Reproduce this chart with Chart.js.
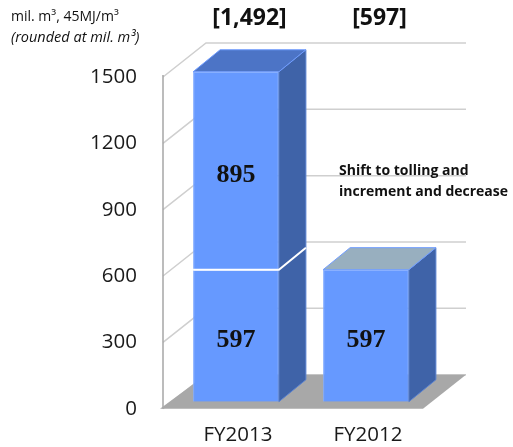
<!DOCTYPE html>
<html>
<head>
<meta charset="utf-8">
<script src="https://cdn.jsdelivr.net/npm/chart.js@4"></script>
<style>
  html, body { margin: 0; padding: 0; background: #fff; }
  #wrap { position: relative; width: 513px; height: 447px; }
</style>
</head>
<body>
<div id="wrap"><canvas id="volumeChart"></canvas></div>
<script>
const categories = ['FY2013', 'FY2012'];
const existingVolume = [597, 597];
const tollingVolume = [895, null];
const yTickValues = [0, 300, 600, 900, 1200, 1500];

const totals = categories.map((_, i) => existingVolume[i] + (tollingVolume[i] || 0));

// 3D geometry (pixels)
const WALL_DX = 43, WALL_DY = -34;
const BAR_SHIFT_X = 8, BAR_SHIFT_Y = -7;
const BAR_DX = 27, BAR_DY = -22;

const SANS = '"Open Sans", "Liberation Sans", sans-serif';

function fillPoly(ctx, pts, fill, stroke) {
  ctx.beginPath();
  ctx.moveTo(pts[0][0], pts[0][1]);
  for (let k = 1; k < pts.length; k++) ctx.lineTo(pts[k][0], pts[k][1]);
  ctx.closePath();
  ctx.fillStyle = fill;
  ctx.fill();
  if (stroke) {
    ctx.strokeStyle = stroke;
    ctx.lineWidth = 1;
    ctx.stroke();
  }
}

function isTopSegment(chart, di, i) {
  const sets = chart.data.datasets;
  for (let k = di + 1; k < sets.length; k++) {
    if (sets[k].data[i] != null) return false;
  }
  return true;
}

const box3d = {
  id: 'box3d',
  beforeDatasetsDraw(chart) {
    const { ctx, chartArea: a, scales: { y } } = chart;
    ctx.save();
    // side wall + back wall gridlines
    ctx.strokeStyle = '#cfcfcf';
    ctx.lineWidth = 1.5;
    y.ticks.forEach(t => {
      const py = y.getPixelForValue(t.value);
      ctx.beginPath();
      ctx.moveTo(a.left, py);
      ctx.lineTo(a.left + WALL_DX, py + WALL_DY);
      ctx.lineTo(a.right + WALL_DX, py + WALL_DY);
      ctx.stroke();
    });
    // front edge of the side wall
    ctx.strokeStyle = '#a6a6a6';
    ctx.beginPath();
    ctx.moveTo(a.left, y.getPixelForValue(y.max) - 2);
    ctx.lineTo(a.left, a.bottom);
    ctx.stroke();
    // floor
    fillPoly(ctx, [
      [a.left - 3, a.bottom],
      [a.right, a.bottom],
      [a.right + WALL_DX, a.bottom + WALL_DY],
      [a.left + WALL_DX, a.bottom + WALL_DY]
    ], '#a8a8a8');
    ctx.restore();

    // bars sit a little behind the front plane
    ctx.save();
    ctx.translate(BAR_SHIFT_X, BAR_SHIFT_Y);
  },
  afterDatasetsDraw(chart) {
    const ctx = chart.ctx;
    const seams = [];
    chart.data.datasets.forEach((ds, di) => {
      chart.getDatasetMeta(di).data.forEach((bar, i) => {
        if (ds.data[i] == null) return;
        const { x, y, base, width } = bar.getProps(['x', 'y', 'base', 'width'], true);
        const x0 = x - width / 2, x1 = x + width / 2;
        fillPoly(ctx, [[x1, y], [x1 + BAR_DX, y + BAR_DY], [x1 + BAR_DX, base + BAR_DY], [x1, base]],
          ds.sideColor, '#5a82d0');
        if (isTopSegment(chart, di, i)) {
          fillPoly(ctx, [[x0, y], [x0 + BAR_DX, y + BAR_DY], [x1 + BAR_DX, y + BAR_DY], [x1, y]],
            ds.topColor, '#6f9cff');
        } else {
          seams.push([x0, x1, y]);
        }
      });
    });
    // white seam between stacked segments
    ctx.strokeStyle = '#ffffff';
    ctx.lineWidth = 2;
    seams.forEach(([x0, x1, y]) => {
      ctx.beginPath();
      ctx.moveTo(x0, y);
      ctx.lineTo(x1, y);
      ctx.lineTo(x1 + BAR_DX, y + BAR_DY);
      ctx.stroke();
    });

    // values inside the bars
    ctx.fillStyle = '#111';
    ctx.font = 'bold 26px "Liberation Serif", serif';
    ctx.textAlign = 'center';
    ctx.textBaseline = 'middle';
    chart.data.datasets.forEach((ds, di) => {
      chart.getDatasetMeta(di).data.forEach((bar, i) => {
        if (ds.data[i] == null) return;
        const { x, y, base } = bar.getProps(['x', 'y', 'base'], true);
        ctx.fillText(String(ds.data[i]), x, (y + base) / 2 + 5);
      });
    });
    ctx.restore();

    // totals above the columns
    const meta = chart.getDatasetMeta(0);
    ctx.save();
    ctx.fillStyle = '#111';
    ctx.font = 'bold 23px ' + SANS;
    ctx.textAlign = 'center';
    ctx.textBaseline = 'middle';
    totals.forEach((t, i) => {
      const x = meta.data[i].x + BAR_SHIFT_X + BAR_DX / 2;
      ctx.fillText('[' + t.toLocaleString('en-US') + ']', x, 18);
    });
    ctx.restore();
  },
  afterDraw(chart) {
    const ctx = chart.ctx;
    ctx.save();
    ctx.fillStyle = '#111';
    ctx.textAlign = 'left';
    ctx.textBaseline = 'middle';
    ctx.font = '14px ' + SANS;
    ctx.fillText('mil. m³, 45MJ/m³', 11, 17);
    ctx.font = 'italic 14.5px ' + SANS;
    ctx.fillText('(rounded at mil. m³)', 11, 38);
    ctx.font = 'bold 14px ' + SANS;
    ctx.fillText('Shift to tolling and', 339, 171);
    ctx.fillText('increment and decrease', 339, 192);
    ctx.restore();
  }
};

const ctx = document.getElementById('volumeChart').getContext('2d');
new Chart(ctx, {
  type: 'bar',
  data: {
    labels: categories,
    datasets: [
      {
        label: 'Existing',
        data: existingVolume,
        backgroundColor: '#6699ff',
        borderColor: '#80aaff',
        borderWidth: 1,
        sideColor: '#3f63a8',
        topColor: '#98afbf'
      },
      {
        label: 'Tolling',
        data: tollingVolume,
        backgroundColor: '#6699ff',
        borderColor: '#80aaff',
        borderWidth: 1,
        sideColor: '#3f63a8',
        topColor: '#4c74c6'
      }
    ]
  },
  options: {
    responsive: true,
    maintainAspectRatio: false,
    animation: false,
    layout: { padding: { top: 77, right: 90, left: 0, bottom: 0 } },
    datasets: { bar: { categoryPercentage: 1, barPercentage: 0.66 } },
    plugins: {
      legend: { display: false },
      tooltip: { enabled: false }
    },
    scales: {
      x: {
        stacked: true,
        grid: { display: false, drawTicks: false },
        border: { display: false },
        ticks: {
          color: '#1a1a1a',
          font: { family: SANS, size: 20.5 },
          padding: 14,
          labelOffset: 10
        },
        afterFit(scale) { scale.height = 37; }
      },
      y: {
        stacked: true,
        min: 0,
        max: 1500,
        grid: { display: false, drawTicks: false },
        border: { display: false },
        afterBuildTicks(scale) {
          scale.ticks = yTickValues.map(v => ({ value: v }));
        },
        ticks: {
          color: '#1a1a1a',
          font: { family: SANS, size: 20.5 },
          padding: 26,
          callback: v => String(v)
        },
        afterFit(scale) { scale.width = 163; }
      }
    }
  },
  plugins: [box3d]
});
</script>
</body>
</html>
